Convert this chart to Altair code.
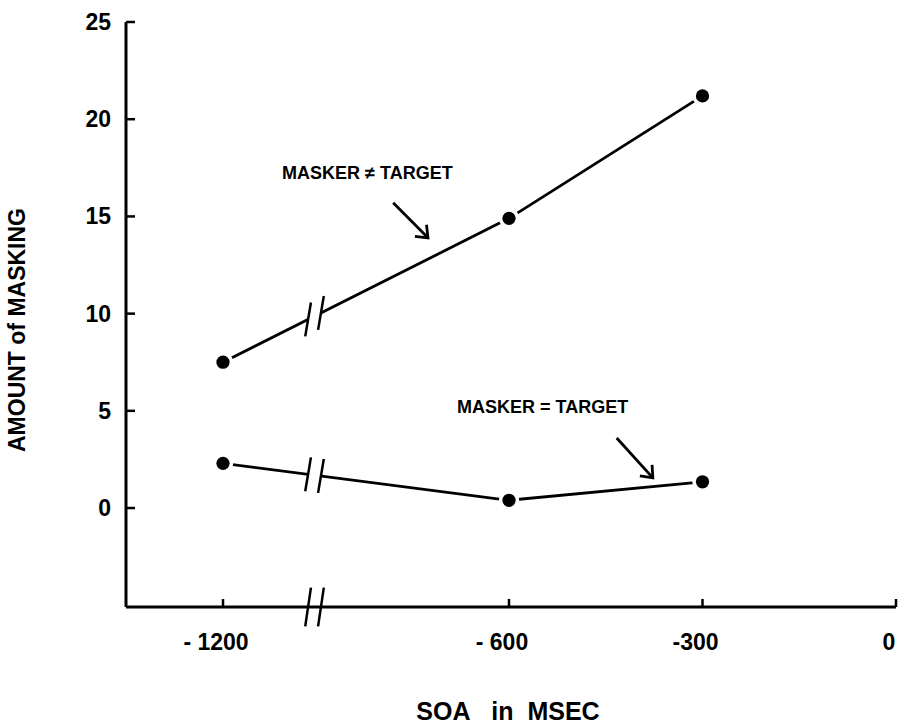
import altair as alt
import pandas as pd

FONT = "Liberation Sans"

# ---- data ----
soa = [-1200, -600, -300]
masker_neq_target = [7.5, 14.9, 21.2]
masker_eq_target = [2.3, 0.4, 1.35]
series_names = ["MASKER \u2260 TARGET", "MASKER = TARGET"]

# axes
x_domain = [-1350, -1200, -600, 0]      # broken axis: piecewise scale
x_range = [0, 97, 383, 770]
y_domain = [-5.09, 25]
y_ticks = [0, 5, 10, 15, 20, 25]
y_tick_labels = ["0", "5", "10", "15", "20", "25"]
x_ticks = [-1200, -600, -300, 0]
x_tick_labels = ["- 1200", "- 600", "-300", "0"]
x_title = "SOA\u00a0\u00a0\u00a0in\u00a0\u00a0MSEC"
y_title = "AMOUNT of MASKING"

# axis break (between -1200 and -600)
break_soa = -1008
break_half_gap = 13.5     # ms
slash_half_dx = 6.0       # ms
slash_half_dy = 0.87      # amount units
axis_slash_half_dy = 1.0

# annotations
annot_text = series_names
annot_x = [-1076, -709]
annot_y = [17.2, 5.15]
arrow_x = [-843, -433]
arrow_y = [15.7, 3.6]
arrow_x2 = [-770, -377]
arrow_y2 = [13.9, 1.55]
arrow_angle = [45, 48]

W, H = 770, 585

# ---- tables ----
rows = []
for name, vals in zip(series_names, [masker_neq_target, masker_eq_target]):
    for s, v in zip(soa, vals):
        rows.append({"series": name, "soa": s, "amount": v})
df = pd.DataFrame(rows)

gap_rows, slash_rows = [], []
for vals in [masker_neq_target, masker_eq_target]:
    def yat(x, vals=vals):
        return vals[0] + (x - soa[0]) / (soa[1] - soa[0]) * (vals[1] - vals[0])
    xa, xb = break_soa - break_half_gap, break_soa + break_half_gap
    gap_rows.append({"x": xa, "x2": xb, "y": yat(xa), "y2": yat(xb)})
    for o in (-break_half_gap, break_half_gap):
        xc = break_soa + o
        yc = yat(xc)
        slash_rows.append({"x": xc - slash_half_dx, "x2": xc + slash_half_dx,
                           "y": yc - slash_half_dy, "y2": yc + slash_half_dy})
# break on the x axis
gap_rows.append({"x": break_soa - break_half_gap, "x2": break_soa + break_half_gap,
                 "y": y_domain[0], "y2": y_domain[0]})
for o in (-break_half_gap, break_half_gap):
    xc = break_soa + o
    slash_rows.append({"x": xc - slash_half_dx, "x2": xc + slash_half_dx,
                       "y": y_domain[0] - axis_slash_half_dy,
                       "y2": y_domain[0] + axis_slash_half_dy})
gap_df = pd.DataFrame(gap_rows)
slash_df = pd.DataFrame(slash_rows)

annot_df = pd.DataFrame({"text": annot_text, "x": annot_x, "y": annot_y})
arrow_df = pd.DataFrame({"x": arrow_x, "y": arrow_y, "x2": arrow_x2,
                         "y2": arrow_y2, "angle": arrow_angle})
ytick_df = pd.DataFrame({"t": y_ticks, "label": y_tick_labels})
xtick_df = pd.DataFrame({"t": x_ticks, "label": x_tick_labels})

xscale = alt.Scale(domain=x_domain, range=x_range, zero=False, nice=False)
yscale = alt.Scale(domain=y_domain, zero=False, nice=False)

def X(f):
    return alt.X(f, scale=xscale, axis=None)

def Y(f):
    return alt.Y(f, scale=yscale, axis=None)

one = pd.DataFrame({"a": [0]})

yaxis_line = alt.Chart(one).mark_rule(color="black", strokeWidth=3).encode(
    x=alt.value(0), y=alt.value(0), y2=alt.value(H))
xaxis_line = alt.Chart(one).mark_rule(color="black", strokeWidth=3).encode(
    x=alt.value(0), x2=alt.value(W), y=alt.value(H))

yticks = alt.Chart(ytick_df).mark_rule(color="black", strokeWidth=2.5).encode(
    y=Y("t:Q"), x=alt.value(0), x2=alt.value(9))
xticks = alt.Chart(xtick_df).mark_rule(color="black", strokeWidth=2.5).encode(
    x=X("t:Q"), y=alt.value(H), y2=alt.value(H - 8))

ylabels = alt.Chart(ytick_df).mark_text(font=FONT, fontSize=23, fontWeight="bold",
                                        color="black", align="right", baseline="middle",
                                        dy=1).encode(
    y=Y("t:Q"), x=alt.value(-15), text="label:N")
xlabels = alt.Chart(xtick_df).mark_text(font=FONT, fontSize=23, fontWeight="bold",
                                        color="black", align="center", baseline="middle",
                                        dx=-7).encode(
    x=X("t:Q"), y=alt.value(H + 36), text="label:N")

ytitle = alt.Chart(one).mark_text(font=FONT, fontSize=23, fontWeight="bold", color="black",
                                  angle=270, align="center", baseline="middle",
                                  text=y_title).encode(
    x=alt.value(-108), y=alt.value(308))
xtitle = alt.Chart(one).mark_text(font=FONT, fontSize=25, fontWeight="bold", color="black",
                                  align="center", baseline="middle",
                                  text=x_title).encode(
    x=alt.value(382), y=alt.value(H + 105))

lines = alt.Chart(df).mark_line(color="black", strokeWidth=2.8).encode(
    x=X("soa:Q"), y=Y("amount:Q"), detail="series:N")

gaps = alt.Chart(gap_df).mark_rule(color="white", strokeWidth=7).encode(
    x=X("x:Q"), x2="x2:Q", y=Y("y:Q"), y2="y2:Q")
slashes = alt.Chart(slash_df).mark_rule(color="black", strokeWidth=2.5).encode(
    x=X("x:Q"), x2="x2:Q", y=Y("y:Q"), y2="y2:Q")

halo = alt.Chart(df).mark_point(shape="circle", filled=True, color="white",
                                opacity=1, size=420).encode(
    x=X("soa:Q"), y=Y("amount:Q"))
dots = alt.Chart(df).mark_point(shape="circle", filled=True, color="black",
                                opacity=1, size=175).encode(
    x=X("soa:Q"), y=Y("amount:Q"))

arrow_lines = alt.Chart(arrow_df).mark_rule(color="black", strokeWidth=2.8).encode(
    x=X("x:Q"), x2="x2:Q", y=Y("y:Q"), y2="y2:Q")
arrow_heads = alt.Chart(arrow_df).mark_point(
    shape="M -1 -0.8 L 0 0 L -1 0.8", filled=False, color="black",
    strokeWidth=2.8, opacity=1, size=420).encode(
    x=X("x2:Q"), y=Y("y2:Q"),
    angle=alt.Angle("angle:Q", scale=None))

annots = alt.Chart(annot_df).mark_text(font=FONT, fontSize=18, fontWeight="bold",
                                       color="black", align="left", baseline="middle").encode(
    x=X("x:Q"), y=Y("y:Q"), text="text:N")

chart = alt.layer(
    lines, gaps, yaxis_line, xaxis_line, yticks, xticks, slashes,
    halo, dots, arrow_lines, arrow_heads, annots,
    ylabels, xlabels, ytitle, xtitle
).properties(
    width=W, height=H, autosize="none",
    padding={"left": 126, "top": 22, "right": 2, "bottom": 118},
    background="white"
).configure_view(stroke=None, clip=False)

chart.save("out.html", embed_options={"renderer": "svg", "actions": False})
